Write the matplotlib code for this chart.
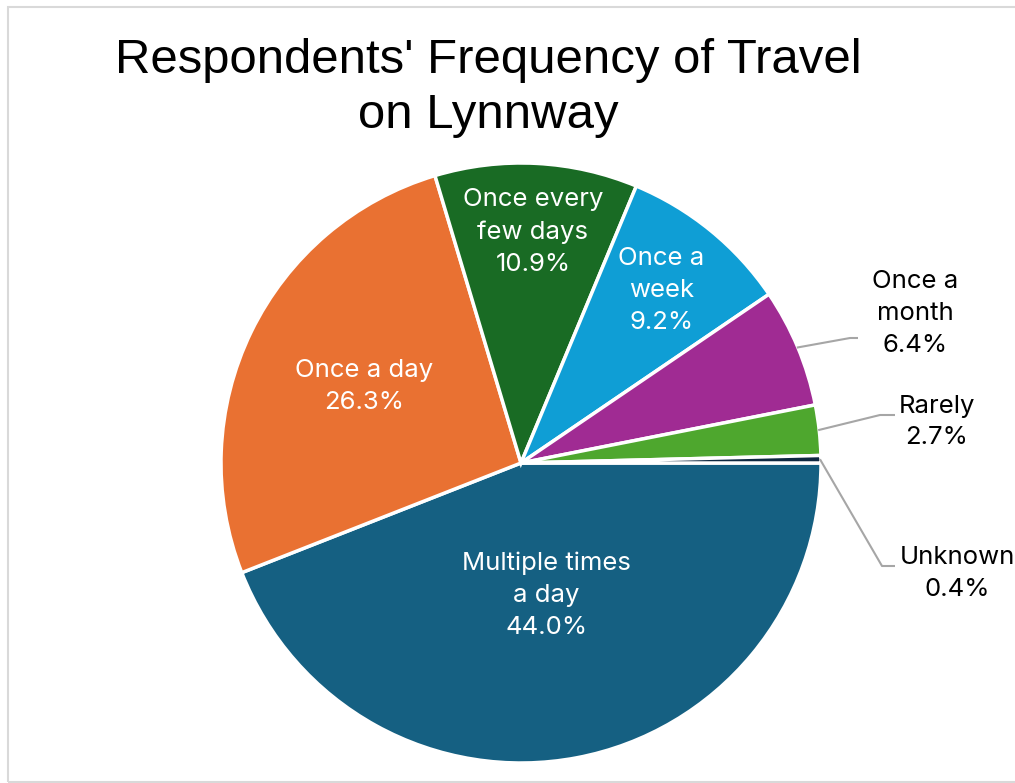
import matplotlib
matplotlib.use("Agg")
import matplotlib.pyplot as plt
from matplotlib import font_manager
from matplotlib.patches import Rectangle
import numpy as np

# ---- data ----
categories = ["Multiple times\na day", "Once a day", "Once every\nfew days", "Once a\nweek",
              "Once a\nmonth", "Rarely", "Unknown"]
values = [44.0, 26.3, 10.9, 9.2, 6.4, 2.7, 0.4]
pct_labels = ["44.0%", "26.3%", "10.9%", "9.2%", "6.4%", "2.7%", "0.4%"]
colors = ["#156082", "#E97132", "#196B24", "#0F9ED5", "#A02B93", "#4EA72E", "#0E2841"]
title = "Respondents' Frequency of Travel\non Lynnway"

W, H = 1015, 783
fig = plt.figure(figsize=(W / 100, H / 100), dpi=100)
ax = fig.add_axes([0, 0, 1, 1])

avail = {f.name for f in font_manager.fontManager.ttflist}
title_font = "Liberation Sans Narrow" if "Liberation Sans Narrow" in avail else "Liberation Sans"
label_font = "Inter" if "Inter" in avail else "DejaVu Sans"

cx, cy, R = 521, H - 463, 300
wedges, _ = ax.pie(values, colors=colors, startangle=0, counterclock=False,
                   center=(cx, cy), radius=R, normalize=True,
                   wedgeprops=dict(edgecolor="white", linewidth=2.5))
ax.set_xlim(0, W)
ax.set_ylim(0, H)
ax.set_aspect("equal")
ax.axis("off")

# figure border
ax.add_patch(Rectangle((8.5, H - 782), W + 20, 782 - 7, fill=False, edgecolor="#d9d9d9",
                       lw=1.5, clip_on=False))

def mid_angle(w):
    return np.deg2rad((w.theta1 + w.theta2) / 2)

LBL = 18.5
LS = 1.5

# inside labels
inside_frac = {0: 0.45, 1: 0.58, 2: 0.77, 3: 0.74}
for i, f in inside_frac.items():
    a = mid_angle(wedges[i])
    x, y = cx + f * R * np.cos(a), cy + f * R * np.sin(a)
    ax.text(x, y, categories[i] + "\n" + pct_labels[i], ha="center", va="center",
            color="white", fontsize=LBL, family=label_font, linespacing=LS)

# outside labels with leader lines (elbow and text positions are layout)
outside = {
    4: dict(elbow=(850, H - 338), end=(858, H - 338), text=(915, H - 313)),
    5: dict(elbow=(880, H - 415), end=(895, H - 415), text=(937, H - 422)),
    6: dict(elbow=(882, H - 566), end=(895, H - 566), text=(957, H - 573)),
}
for i, d in outside.items():
    a = mid_angle(wedges[i])
    sx, sy = cx + (R - 1) * np.cos(a), cy + (R - 1) * np.sin(a)
    ax.plot([sx, d["elbow"][0], d["end"][0]], [sy, d["elbow"][1], d["end"][1]],
            color="#a6a6a6", lw=1.5, solid_capstyle="butt")
    ax.text(d["text"][0], d["text"][1], categories[i] + "\n" + pct_labels[i],
            ha="center", va="center", color="black", fontsize=LBL,
            family=label_font, linespacing=LS)

# title
t = fig.text(488 / W, 1 - 88 / H, title, ha="center", va="center", fontsize=35.4,
             family=title_font, color="black", linespacing=1.27)

fig.savefig("out.png", dpi=100)
